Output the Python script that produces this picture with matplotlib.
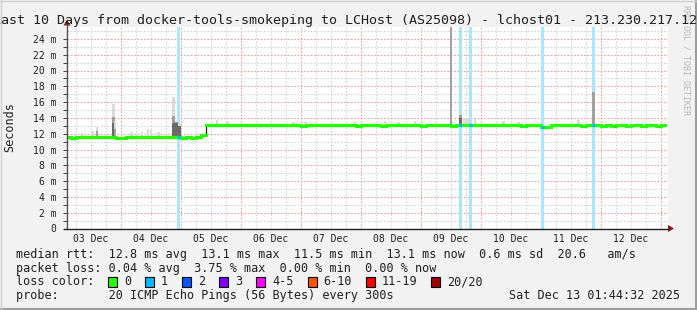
import matplotlib
matplotlib.use("Agg")
import matplotlib.pyplot as plt
from matplotlib.patches import Rectangle, Polygon
from matplotlib.lines import Line2D

W, H = 697, 310

# time axis: days since 03 Dec 00:00, rtt in ms
days = ["03 Dec", "04 Dec", "05 Dec", "06 Dec", "07 Dec",
        "08 Dec", "09 Dec", "10 Dec", "11 Dec", "12 Dec"]
t_start = 0.1
t_end = 10.072  # Sat Dec 13 01:44:32
bin_len = 1 / 12  # median is one value per 2 hours

median = [
    11.6, 11.6, 11.5, 11.6, 11.6, 11.6, 11.6, 11.6, 11.6, 11.6, 11.6, 11.5,  # 03 Dec
    11.5, 11.6, 11.6, 11.6, 11.6, 11.6, 11.6, 11.6, 11.6, 11.6, 11.6, 11.6,  # 04 Dec
    11.5, 11.6, 11.5, 11.6, 11.8, 13.1, 13.1, 13.1, 13.1, 13.1, 13.1, 13.1,  # 05 Dec
    13.1, 13.1, 13.1, 13.1, 13.1, 13.1, 13.1, 13.1, 13.1, 13.1, 13.1, 13.1,  # 06 Dec
    13.0, 13.1, 13.1, 13.1, 13.1, 13.1, 13.1, 13.1, 13.1, 13.1, 13.1, 13.0,  # 07 Dec
    13.1, 13.1, 13.1, 13.1, 13.0, 13.1, 13.1, 13.1, 13.1, 13.1, 13.1, 13.1,  # 08 Dec
    13.0, 13.1, 13.1, 13.1, 13.1, 13.1, 13.0, 13.1, 13.1, 13.1, 13.1, 13.1,  # 09 Dec
    13.1, 13.1, 13.1, 13.1, 13.1, 13.1, 13.1, 13.1, 13.0, 13.1, 13.1, 13.1,  # 10 Dec
    12.9, 12.9, 13.1, 13.1, 13.1, 13.1, 13.1, 13.1, 13.0, 13.1, 13.1, 13.1,  # 11 Dec
    13.0, 13.1, 13.0, 13.1, 13.1, 13.0, 13.1, 13.1, 13.0, 13.1, 13.1, 13.0,  # 12 Dec
    13.1,                                                                    # 13 Dec
]

# packet loss events (time, lost pings of 20)
loss_t = [1.95, 6.66, 6.83, 8.03, 8.87]
loss_n = [1, 1, 1, 1, 1]

# smoke spikes: top of outer (light), middle and inner (dark) pings, 0 = none
spike_t = [0.35, 0.53, 0.60, 0.87, 0.90, 1.18, 1.35, 1.45, 1.50, 1.62, 1.87, 1.93, 1.98,
           2.60, 2.78, 3.87, 4.07, 4.90, 5.40, 5.62, 5.90, 6.50, 6.66, 6.72, 6.78, 6.90,
           7.37, 7.62, 8.62, 8.87]
spike_light = [12.1, 12.3, 12.9, 15.7, 13.6, 12.2, 12.2, 12.6, 12.5, 12.2, 16.7, 13.6, 13.4,
               13.7, 13.6, 13.5, 13.5, 13.5, 13.6, 13.5, 13.6, 25.5, 14.4, 14.0, 14.0, 13.8,
               13.6, 13.5, 13.7, 17.3]
spike_mid = [0, 0, 12.4, 14.1, 12.6, 0, 0, 0, 0, 0, 14.2, 13.5, 0,
             0, 0, 0, 0, 0, 0, 0, 0, 25.5, 14.4, 0, 0, 0,
             0, 0, 0, 17.3]
spike_dark = [0, 0, 0, 13.3, 0, 0, 0, 0, 0, 0, 13.4, 13.4, 13.0,
              0, 0, 0, 0, 0, 0, 0, 0, 0, 14.0, 0, 0, 0,
              0, 0, 0, 0]

loss_labels = ["0", "1", "2", "3", "4-5", "6-10", "11-19", "20/20"]
loss_colors = ["#26ff00", "#00b8ff", "#0059ff", "#7e00ff",
               "#ff00ff", "#ff5500", "#ff0000", "#a10000"]

title = "Last 10 Days from docker-tools-smokeping to LCHost (AS25098) - lchost01 - 213.230.217.12"
stats_rtt = "median rtt:  12.8 ms avg  13.1 ms max  11.5 ms min  13.1 ms now  0.6 ms sd  20.6   am/s"
stats_loss = "packet loss: 0.04 % avg  3.75 % max  0.00 % min  0.00 % now"
probe = "probe:       20 ICMP Echo Pings (56 Bytes) every 300s"
stamp = "Sat Dec 13 01:44:32 2025"

plt.rcParams["font.family"] = "DejaVu Sans Mono"
BG = "#f2f2f2"


def fx(px):
    return px / W


def fy(py):
    return 1 - py / H


fig = plt.figure(figsize=(W / 100, H / 100), dpi=100, facecolor=BG)
ax_l, ax_r, ax_t, ax_b = 67, 668, 27, 228.5
ax = fig.add_axes([fx(ax_l), fy(ax_b), (ax_r - ax_l) / W, (ax_b - ax_t) / H])
ax.set_facecolor("white")
ymax = (ax_b - ax_t) / 7.9
ax.set_xlim(t_start, t_start + (ax_r - ax_l) / 60)
ax.set_ylim(0, ymax)
for s in ax.spines.values():
    s.set_visible(False)

# grid
for k in range(0, 42):
    t = k / 4
    if k % 4 == 0:
        ax.axvline(t, color="#eaa0a0", lw=0.8, ls=(0, (1.5, 1.5)), zorder=1)
    else:
        ax.axvline(t, color="#d4d4d4", lw=0.8, ls=(0, (1.5, 1.5)), zorder=1)
for v in range(1, 26):
    if v % 2 == 0:
        ax.axhline(v, color="#eaa0a0", lw=0.8, ls=(0, (1.5, 1.5)), zorder=1)
    else:
        ax.axhline(v, color="#d4d4d4", lw=0.8, ls=(0, (1.5, 1.5)), zorder=1)

# loss background bars
ax.bar(loss_t, [ymax] * len(loss_t), width=0.05, color="#aae6ff", zorder=2)


def med_at(t):
    return median[min(int(t / bin_len), len(median) - 1)]


# smoke
for t, lt, md, dk in zip(spike_t, spike_light, spike_mid, spike_dark):
    m = med_at(t)
    ax.bar(t, lt - m, bottom=m, width=0.045, color="#dadada", zorder=3)
    if md > 0:
        ax.bar(t, md - m, bottom=m, width=0.045, color="#a0a0a0", zorder=3)
    if dk > 0:
        ax.bar(t, dk - m, bottom=m, width=0.045, color="#6a6a6a", zorder=3)

# median line (dark connector only where the level jumps)
edges = [i * bin_len for i in range(len(median))] + [t_end]
for i in range(1, len(median)):
    if abs(median[i] - median[i - 1]) > 0.5:
        ax.vlines(edges[i], median[i - 1], median[i], color="#202020", lw=0.9, zorder=4)
for i, v in enumerate(median):
    ax.hlines(v, edges[i], edges[i + 1], color=loss_colors[0], lw=2.3, zorder=5,
              capstyle="projecting")
for t, n in zip(loss_t, loss_n):
    ax.hlines(med_at(t), t - 0.025, t + 0.025, color=loss_colors[n], lw=2.3, zorder=6)

# ticks
ax.set_xticks([i + 0.5 for i in range(len(days))], days)
ax.tick_params(axis="x", length=0, pad=4, labelsize=7, colors="#202020")
ax.set_yticks(range(0, 25, 2), ["0" if v == 0 else f"{v} m" for v in range(0, 25, 2)])
ax.set_yticks(range(1, 25, 2), minor=True)
ax.tick_params(axis="y", which="major", length=3, width=0.7, pad=4.5, labelsize=7,
               color="#404040", labelcolor="#202020")
ax.tick_params(axis="y", which="minor", length=3, width=0.7, color="#404040")

# axes lines with arrows
fig.add_artist(Line2D([fx(ax_l), fx(ax_l)], [fy(ax_b), fy(24)], transform=fig.transFigure,
                      color="#505050", lw=1.0))
fig.add_artist(Line2D([fx(ax_l - 3), fx(ax_r)], [fy(ax_b), fy(ax_b)], transform=fig.transFigure,
                      color="#202020", lw=1.0))
fig.add_artist(Polygon([[fx(ax_l - 3.5), fy(25.5)], [fx(ax_l + 3.5), fy(25.5)], [fx(ax_l), fy(19.5)]],
                       closed=True, transform=fig.transFigure, color="#8b1a1a", lw=0))
fig.add_artist(Polygon([[fx(ax_r), fy(ax_b - 3.5)], [fx(ax_r), fy(ax_b + 3.5)], [fx(ax_r + 6), fy(ax_b)]],
                       closed=True, transform=fig.transFigure, color="#8b1a1a", lw=0))

# texts
fig.text(fx(686), fy(5), "RRDTOOL / TOBI OETIKER", rotation=270, ha="center", va="top",
         fontsize=6, color="#b8b8b8")
fig.text(fx(345), fy(24), title, ha="center", va="baseline", fontsize=9.6, color="#202020")
fig.text(fx(10), fy(127), "Seconds", rotation=90, ha="center", va="center", fontsize=8.5,
         color="#202020")
fig.text(fx(16), fy(258), stats_rtt, ha="left", va="baseline", fontsize=8.5, color="#202020")
fig.text(fx(16), fy(271.7), stats_loss, ha="left", va="baseline", fontsize=8.5, color="#202020")
fig.text(fx(16), fy(285.4), "loss color:", ha="left", va="baseline", fontsize=8.5, color="#202020")
fig.text(fx(16), fy(299), probe, ha="left", va="baseline", fontsize=8.5, color="#202020")
fig.text(fx(680), fy(299), stamp, ha="right", va="baseline", fontsize=8.5, color="#202020")

x = 108.3
for lab, col in zip(loss_labels, loss_colors):
    fig.add_artist(Rectangle((fx(x), fy(286.5)), 9 / W, 9.5 / H, transform=fig.transFigure,
                             facecolor=col, edgecolor="black", lw=0.8))
    fig.text(fx(x + 15.7), fy(285.4), lab, ha="left", va="baseline", fontsize=8.5, color="#202020")
    x += 15.7 + (len(lab) + 2) * 7.1

# image frame
fig.add_artist(Line2D([0, 1], [fy(309), fy(309)], transform=fig.transFigure, color="#9e9e9e", lw=1.5))
fig.add_artist(Line2D([fx(696), fx(696)], [0, 1], transform=fig.transFigure, color="#9e9e9e", lw=1.5))
fig.add_artist(Line2D([0, 1], [fy(0.5), fy(0.5)], transform=fig.transFigure, color="#cfcfcf", lw=1))
fig.add_artist(Line2D([fx(0.5), fx(0.5)], [0, 1], transform=fig.transFigure, color="#cfcfcf", lw=1))

fig.savefig("out.png", dpi=100, facecolor=BG)
